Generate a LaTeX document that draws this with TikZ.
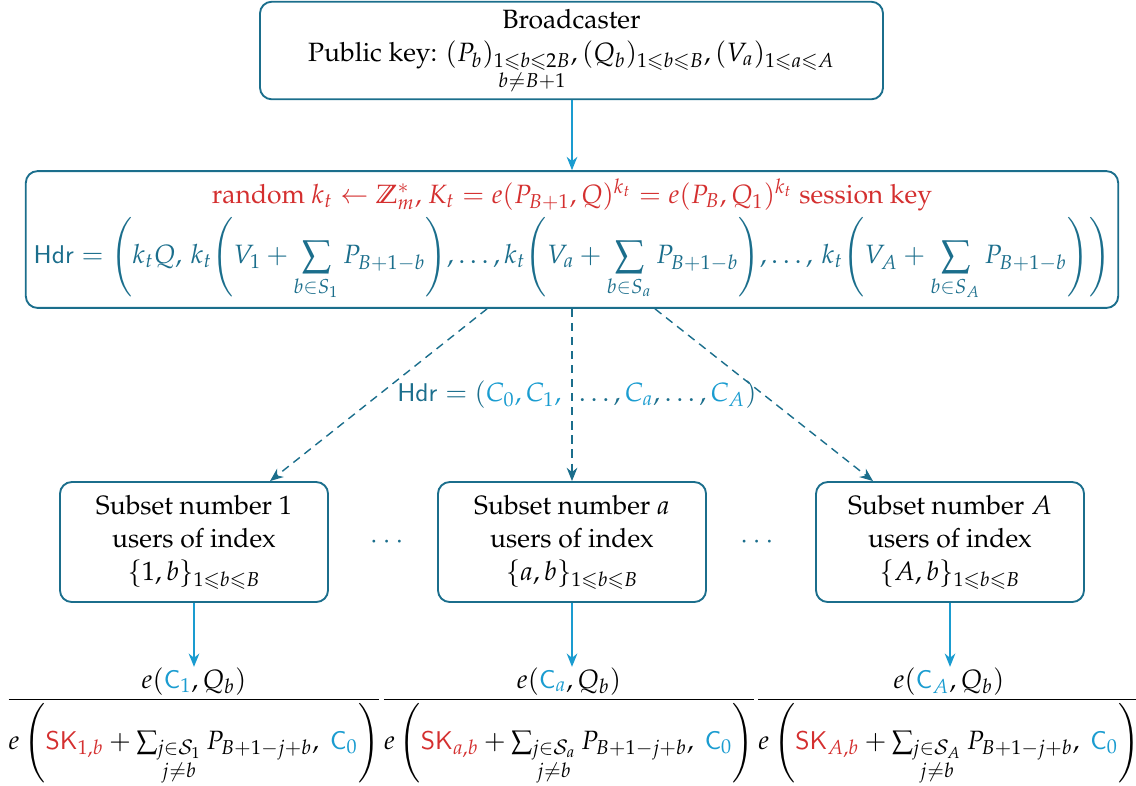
\documentclass[tikz,border=0pt]{standalone}
\usepackage[T1]{fontenc}
\usepackage{amsmath,amssymb}
\usepackage{mathpazo}
\usepackage{tikz}
\usetikzlibrary{arrows.meta,positioning}
\definecolor{HdrTeal}{HTML}{1B6E8C}
\definecolor{CipherBlue}{HTML}{1A9CD0}
\definecolor{KeyRed}{HTML}{D42F2F}

\begin{document}
\begin{tikzpicture}[x=0.015cm,y=-0.015cm,
    every node/.style={font=\fontsize{11.3}{14.2}\selectfont},
    box/.style={draw=HdrTeal,thick,rounded corners=5pt,align=center},
    arr/.style={-{Stealth[length=2mm,width=1.6mm]},semithick,CipherBlue},
    dasharr/.style={-{Stealth[length=2mm,width=1.6mm]},semithick,dash pattern=on 3.5pt off 2.5pt,HdrTeal}]
    \useasboundingbox (0,0) rectangle (1136,785);
    % top
    \node[box,minimum width=9.345cm,minimum height=1.425cm] (bcast) at (571.5,50.5)
      {Broadcaster\\Public key: $(P_b)_{\substack{1\leqslant b\leqslant 2B\\ b\neq B+1}},
       (Q_b)_{1\leqslant b\leqslant B}, (V_a)_{1\leqslant a\leqslant A}$};
    \node[box,minimum width=16.38cm,minimum height=2.025cm] (hdrbox) at (572,239.5)
      {\textcolor{KeyRed}{random $k_t\leftarrow\mathbb{Z}_m^*$, $K_t=e(P_{B+1},Q)^{k_t}=e(P_B,Q_1)^{k_t}$ session key}\\[2pt]
       \color{HdrTeal}$\displaystyle\mathsf{Hdr}=\left(k_tQ,\,k_t{\left(V_1+\sum_{b\in S_1}P_{B+1-b}\right)},\ldots,
       k_t{\left(V_a+\sum_{b\in S_a}P_{B+1-b}\right)},\ldots,\,k_t{\left(V_A+\sum_{b\in S_A}P_{B+1-b}\right)}\right)$};
    \draw[arr] (hdrbox.north |- bcast.south) -- (hdrbox.north);
    % subsets
    \node[box,minimum width=4.02cm,minimum height=1.8cm] (sub1) at (194,542)
      {Subset number 1\\users of index\\$\{1,b\}_{1\leqslant b\leqslant B}$};
    \node[box,minimum width=4.02cm,minimum height=1.8cm] (suba) at (572,542)
      {Subset number $a$\\users of index\\$\{a,b\}_{1\leqslant b\leqslant B}$};
    \node[box,minimum width=4.02cm,minimum height=1.8cm] (subA) at (950,542)
      {Subset number $A$\\users of index\\$\{A,b\}_{1\leqslant b\leqslant B}$};
    \node[text=HdrTeal] (dots1) at (389,542) {$\cdots$};
    \node[text=HdrTeal] (dots2) at (759,542) {$\cdots$};
    \draw[dasharr] (hdrbox.south -| 487,0) -- (sub1.north east -| 270,0);
    \draw[dasharr] (hdrbox.south) -- (suba.north);
    \draw[dasharr] (hdrbox.south -| 655,0) -- (subA.north west -| 873,0);
    \node[text=HdrTeal] (hdrlbl) at (577,395)
      {$\mathsf{Hdr}=(\textcolor{CipherBlue}{C_0,C_1,}\ \ \ldots,\textcolor{CipherBlue}{C_a},\ldots,\textcolor{CipherBlue}{C_A})$};
    % decryption
    \node[inner sep=0pt] (dec1) at (194,725)
      {$\dfrac{e(\textcolor{CipherBlue}{\mathsf{C}_1},Q_b)}{e\left(\textcolor{KeyRed}{\mathsf{SK}_{1,b}}+\sum_{\substack{j\in\mathcal{S}_1\\ j\neq b}}P_{B+1-j+b},\ \textcolor{CipherBlue}{\mathsf{C}_0}\right)}$};
    \node[inner sep=0pt] (deca) at (569,725)
      {$\dfrac{e(\textcolor{CipherBlue}{\mathsf{C}_a},Q_b)}{e\left(\textcolor{KeyRed}{\mathsf{SK}_{a,b}}+\sum_{\substack{j\in\mathcal{S}_a\\ j\neq b}}P_{B+1-j+b},\ \textcolor{CipherBlue}{\mathsf{C}_0}\right)}$};
    \node[inner sep=0pt] (decA) at (949,725)
      {$\dfrac{e(\textcolor{CipherBlue}{\mathsf{C}_A},Q_b)}{e\left(\textcolor{KeyRed}{\mathsf{SK}_{A,b}}+\sum_{\substack{j\in\mathcal{S}_A\\ j\neq b}}P_{B+1-j+b},\ \textcolor{CipherBlue}{\mathsf{C}_0}\right)}$};
    \draw[arr] (sub1.south) -- (sub1.south |- dec1.north);
    \draw[arr] (suba.south) -- (suba.south |- deca.north);
    \draw[arr] (subA.south) -- (subA.south |- decA.north);
\end{tikzpicture}
\end{document}
